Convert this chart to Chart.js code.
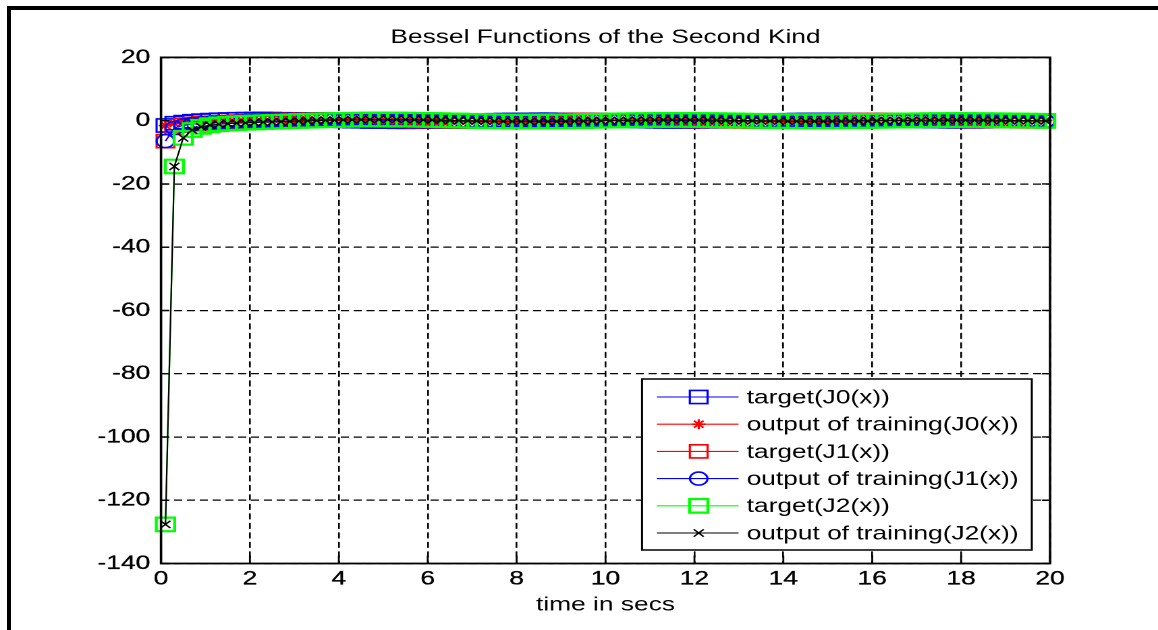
<!DOCTYPE html>
<html>
<head>
<meta charset="utf-8">
<script src="https://cdn.jsdelivr.net/npm/chart.js@4/dist/chart.umd.min.js"></script>
<style>
html,body{margin:0;padding:0;background:#fff;width:1158px;height:630px;overflow:hidden;}
#wrap{position:absolute;left:0;top:0;width:858px;height:630px;transform:scaleX(1.34965);transform-origin:0 0;}
#frame{position:absolute;left:7px;top:6px;right:0;bottom:0;border-top:4px solid #000;border-left:4px solid #000;pointer-events:none;}
</style>
</head>
<body>
<div id="wrap"><canvas id="c"></canvas></div>
<div id="frame"></div>
<script>
// ---------- DATA ----------
const chartTitle = 'Bessel Functions of the Second Kind';
const xAxisTitle = 'time in secs';
const seriesLabels = ['target(J0(x))','output of training(J0(x))','target(J1(x))','output of training(J1(x))','target(J2(x))','output of training(J2(x))'];
const xTicks = [0,2,4,6,8,10,12,14,16,18,20];
const yTicks = [-140,-120,-100,-80,-60,-40,-20,0,20];

const xValues = [0.1,0.3,0.5,0.7,0.9,1.1,1.3,1.5,1.7,1.9,2.1,2.3,2.5,2.7,2.9,3.1,3.3,3.5,3.7,3.9,
4.1,4.3,4.5,4.7,4.9,5.1,5.3,5.5,5.7,5.9,6.1,6.3,6.5,6.7,6.9,7.1,7.3,7.5,7.7,7.9,
8.1,8.3,8.5,8.7,8.9,9.1,9.3,9.5,9.7,9.9,10.1,10.3,10.5,10.7,10.9,11.1,11.3,11.5,11.7,11.9,
12.1,12.3,12.5,12.7,12.9,13.1,13.3,13.5,13.7,13.9,14.1,14.3,14.5,14.7,14.9,15.1,15.3,15.5,15.7,15.9,
16.1,16.3,16.5,16.7,16.9,17.1,17.3,17.5,17.7,17.9,18.1,18.3,18.5,18.7,18.9,19.1,19.3,19.5,19.7,19.9];

const targetJ0 = [-1.534,-0.807,-0.445,-0.191,0.006,0.162,0.287,0.382,0.452,0.497,0.518,0.518,0.498,0.461,0.408,0.343,0.269,0.189,0.106,0.023,
-0.057,-0.130,-0.195,-0.250,-0.293,-0.322,-0.338,-0.340,-0.329,-0.305,-0.270,-0.226,-0.174,-0.116,-0.056,0.004,0.063,0.117,0.166,0.207,
0.238,0.260,0.271,0.270,0.259,0.239,0.209,0.171,0.128,0.080,0.031,-0.019,-0.068,-0.112,-0.152,-0.184,-0.209,-0.225,-0.232,-0.230,
-0.219,-0.199,-0.171,-0.138,-0.099,-0.057,-0.013,0.030,0.072,0.110,0.143,0.170,0.190,0.203,0.207,0.202,0.190,0.171,0.145,0.113,
0.078,0.040,0.000,-0.039,-0.075,-0.109,-0.138,-0.160,-0.177,-0.186,-0.188,-0.182,-0.169,-0.149,-0.124,-0.094,-0.061,-0.026,0.011,0.046];

const targetJ1 = [-6.459,-2.293,-1.471,-1.103,-0.873,-0.698,-0.549,-0.412,-0.286,-0.164,-0.052,0.052,0.146,0.228,0.295,0.350,0.388,0.410,0.416,0.408,
0.385,0.348,0.301,0.244,0.181,0.113,0.044,-0.024,-0.089,-0.148,-0.199,-0.242,-0.274,-0.294,-0.302,-0.299,-0.284,-0.259,-0.224,-0.181,
-0.133,-0.080,-0.026,0.028,0.080,0.127,0.169,0.203,0.228,0.244,0.251,0.247,0.233,0.211,0.181,0.145,0.103,0.058,0.011,-0.035,
-0.079,-0.119,-0.154,-0.182,-0.203,-0.215,-0.219,-0.214,-0.201,-0.180,-0.152,-0.119,-0.081,-0.041,0.001,0.041,0.080,0.115,0.145,0.169,
0.185,0.195,0.196,0.190,0.177,0.156,0.130,0.099,0.064,0.027,-0.011,-0.047,-0.082,-0.113,-0.139,-0.159,-0.173,-0.180,-0.179,-0.172];

const targetJ2 = [-127.645,-14.480,-5.441,-2.961,-1.946,-1.432,-1.130,-0.932,-0.789,-0.670,-0.568,-0.473,-0.381,-0.292,-0.205,-0.118,-0.034,0.045,0.119,0.187,
0.244,0.292,0.329,0.354,0.367,0.367,0.355,0.332,0.298,0.255,0.205,0.149,0.089,0.029,-0.031,-0.088,-0.141,-0.186,-0.224,-0.253,
-0.271,-0.279,-0.277,-0.264,-0.242,-0.211,-0.172,-0.129,-0.081,-0.031,0.019,0.067,0.112,0.152,0.185,0.210,0.227,0.236,0.234,0.224,
0.206,0.179,0.147,0.109,0.068,0.024,-0.020,-0.062,-0.101,-0.136,-0.165,-0.187,-0.202,-0.208,-0.207,-0.197,-0.180,-0.156,-0.126,-0.092,
-0.055,-0.016,0.024,0.061,0.096,0.127,0.153,0.172,0.184,0.189,0.186,0.176,0.160,0.137,0.109,0.078,0.043,0.007,-0.029,-0.063];

// trained network outputs coincide with the targets at the plotted resolution
const outputJ0 = targetJ0.slice();
const outputJ1 = targetJ1.slice();
const outputJ2 = targetJ2.slice();

// ---------- CHART ----------
const FONT = '"Liberation Sans", Arial, Helvetica, sans-serif';
Chart.defaults.font.family = FONT;
Chart.defaults.color = '#000';

const pts = arr => xValues.map((x, i) => ({x: x, y: arr[i]}));

function series(i, arr, color, style, radius, order, pbw) {
  return {
    label: seriesLabels[i], data: pts(arr),
    borderColor: color, borderWidth: 1.1,
    pointStyle: style, pointRadius: radius, pointHoverRadius: radius,
    pointBorderColor: color, pointBackgroundColor: 'rgba(0,0,0,0)', pointBorderWidth: pbw,
    fill: false, tension: 0, clip: false, order: order
  };
}

const boxPlugin = {
  id: 'boxPlugin',
  afterDatasetsDraw(chart) {
    const {ctx, chartArea: a, scales} = chart;
    ctx.save();
    ctx.strokeStyle = '#000';
    ctx.lineWidth = 1.8;
    ctx.strokeRect(a.left, a.top, a.right - a.left, a.bottom - a.top);
    ctx.lineWidth = 1.4;
    ctx.beginPath();
    xTicks.forEach(v => {
      const px = scales.x.getPixelForValue(v);
      ctx.moveTo(px, a.bottom); ctx.lineTo(px, a.bottom - 8);
      ctx.moveTo(px, a.top); ctx.lineTo(px, a.top + 8);
    });
    yTicks.forEach(v => {
      const py = scales.y.getPixelForValue(v);
      ctx.moveTo(a.left, py); ctx.lineTo(a.left + 6, py);
      ctx.moveTo(a.right, py); ctx.lineTo(a.right - 6, py);
    });
    ctx.stroke();
    ctx.restore();
  }
};

const legendPlugin = {
  id: 'matlabLegend',
  afterDraw(chart) {
    const {ctx, chartArea: a} = chart;
    const w = 288.8, h = 171;
    const bx = a.right - 13.5 - w, by = a.bottom - 13.5 - h;
    ctx.save();
    ctx.fillStyle = '#fff';
    ctx.fillRect(bx, by, w, h);
    ctx.strokeStyle = '#000';
    ctx.lineWidth = 1.5;
    ctx.strokeRect(bx, by, w, h);
    chart.data.datasets.forEach((ds, i) => {
      const y = by + 18 + i * 27.2;
      ctx.strokeStyle = ds.borderColor;
      ctx.lineWidth = ds.borderWidth;
      ctx.beginPath();
      ctx.moveTo(bx + 11, y); ctx.lineTo(bx + 71.5, y);
      ctx.stroke();
      ctx.fillStyle = 'rgba(0,0,0,0)';
      ctx.strokeStyle = ds.pointBorderColor;
      ctx.lineWidth = ds.pointBorderWidth;
      Chart.helpers.drawPoint(ctx, {pointStyle: ds.pointStyle, radius: ds.pointRadius, borderWidth: ds.pointBorderWidth, rotation: 0}, bx + 42, y);
      ctx.fillStyle = '#000';
      ctx.font = '19.5px ' + FONT;
      ctx.textAlign = 'left';
      ctx.textBaseline = 'middle';
      ctx.fillText(ds.label, bx + 77.5, y + 1);
    });
    ctx.restore();
  }
};

const gridOpts = {
  color: '#000', lineWidth: 1.3, drawTicks: false
};

new Chart(document.getElementById('c'), {
  type: 'line',
  data: {
    datasets: [
      series(0, targetJ0, '#0000ff', 'rect', 9.3, 6, 1.6),
      series(1, outputJ0, '#ff0000', 'star', 5, 5, 1.6),
      series(2, targetJ1, '#ff0000', 'rect', 9.3, 4, 1.6),
      series(3, outputJ1, '#0000ff', 'circle', 6.5, 3, 1.6),
      series(4, targetJ2, '#00ff00', 'rect', 9.6, 2, 2.2),
      series(5, outputJ2, '#000000', 'crossRot', 5.2, 1, 1.3)
    ]
  },
  options: {
    responsive: true, maintainAspectRatio: false, animation: false,
    devicePixelRatio: 2, events: [],
    layout: {padding: {left: 0, right: 80, top: 0, bottom: 0}},
    plugins: {
      legend: {display: false}, tooltip: {enabled: false},
      title: {
        display: true, text: chartTitle, fullSize: false, color: '#000',
        font: {size: 19.5, weight: 'normal', lineHeight: 1.2},
        padding: {top: 26, bottom: 8}
      }
    },
    scales: {
      x: {
        type: 'linear', min: 0, max: 20,
        afterBuildTicks: s => { s.ticks = xTicks.map(v => ({value: v})); },
        afterFit: s => { s.height = 66.5; },
        ticks: {font: {size: 19.5}, color: '#000', padding: 4, maxRotation: 0, autoSkip: false, callback: v => String(v),
                textStrokeColor: '#000', textStrokeWidth: 0.3},
        grid: Object.assign({borderDash: [6, 3.5]}, gridOpts),
        border: {display: false, dash: [6, 3.5]},
        title: {display: true, text: xAxisTitle, color: '#000', font: {size: 19.5, lineHeight: 1.2}, padding: {top: 0, bottom: 13.3}}
      },
      y: {
        type: 'linear', min: -140, max: 20,
        afterBuildTicks: s => { s.ticks = yTicks.map(v => ({value: v})); },
        afterFit: s => { s.width = 119.3; },
        ticks: {font: {size: 19.5}, color: '#000', padding: 8, autoSkip: false, callback: v => String(v),
                textStrokeColor: '#000', textStrokeWidth: 0.3},
        grid: Object.assign({}, gridOpts),
        border: {display: false, dash: [6, 3.5]}
      }
    }
  },
  plugins: [boxPlugin, legendPlugin]
});
</script>
</body>
</html>
